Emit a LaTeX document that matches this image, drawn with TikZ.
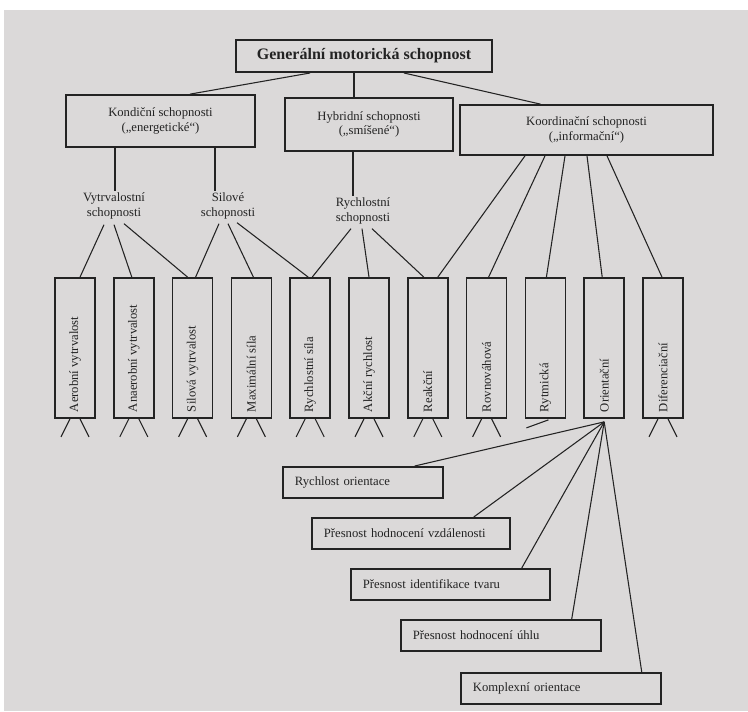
\documentclass[tikz,border=0pt]{standalone}
\usepackage{fontspec}
\setmainfont{Liberation Serif}
\usetikzlibrary{calc}
\definecolor{paper}{RGB}{219,217,217}
\definecolor{ink}{RGB}{35,35,35}
\begin{document}
\begin{tikzpicture}[x=0.75pt,y=-0.75pt,
  box/.style={draw=ink, line width=1.3pt, inner sep=0pt, text=ink, align=center,
    font=\fontsize{9.5}{11}\selectfont},
  vbox/.style={box, minimum width=30pt, minimum height=105pt},
  lbl/.style={inner sep=1pt, text=ink, align=center, font=\fontsize{9.5}{11}\selectfont},
  subbox/.style={box, anchor=north west, minimum height=23.25pt, align=left, inner xsep=9pt},
  conn/.style={draw=ink, line width=0.8pt}]
\useasboundingbox (0,0) rectangle (748,711);
\fill[white] (0,0) rectangle (748,711);
\fill[paper] (4,10) rectangle (748,711);

% top
\node[box, minimum width=192pt, minimum height=24pt, line width=1.5pt,
  font=\bfseries\fontsize{12}{14}\selectfont] (gen) at (364,56) {Generální motorická schopnost};
% second level
\node[box, minimum width=141.75pt, minimum height=39pt] (kond) at (160.5,121)
  {Kondiční schopnosti\\(„energetické“)};
\node[box, minimum width=126pt, minimum height=39.75pt] (hyb) at (369,124.5)
  {Hybridní schopnosti\\(„smíšené“)};
\node[box, minimum width=189.75pt, minimum height=37.5pt] (koord) at (586.5,130)
  {Koordinační schopnosti\\(„informační“)};

\draw[conn] ($(gen.south)+(-54,0)$) -- ($(kond.north)+(29.5,0)$);
\draw[conn] ($(gen.south)+(-10,0)$) -- ($(hyb.north)+(-15,0)$);
\draw[conn] ($(gen.south)+(40,0)$) -- ($(koord.north)+(-46,0)$);

% group labels
\node[lbl] (vyt) at (114,206) {Vytrvalostní\\schopnosti};
\node[lbl] (sil) at (228,206) {Silové\\schopnosti};
\node[lbl] (ryc) at (363,211) {Rychlostní\\schopnosti};

\draw[conn] ($(kond.south)+(-45.5,0)$) coordinate (k1) -- (k1 |- vyt.north);
\draw[conn] ($(kond.south)+(54.5,0)$) coordinate (k2) -- (k2 |- sil.north);
\draw[conn] ($(hyb.south)+(-16,0)$) coordinate (h1) -- (h1 |- ryc.north);

% vertical boxes
\foreach \i/\t in {1/Aerobní vytrvalost, 2/Anaerobní vytrvalost, 3/Silová vytrvalost,
  4/Maximální síla, 5/Rychlostní síla, 6/Akční rychlost, 7/Reakční, 8/Rovnováhová,
  9/Rytmická, 10/Orientační, 11/Diferenciační}{
  \node[vbox] (b\i) at ({75+58.8*(\i-1)},348) {\rotatebox{90}{\makebox[96pt][l]{\t}}};
}

% label -> boxes
\draw[conn] ($(vyt.south)+(-10,4)$) -- ($(b1.north)+(5,0)$);
\draw[conn] ($(vyt.south)+(0,4)$) -- ($(b2.north)+(-2,0)$);
\draw[conn] ($(vyt.south)+(10,3)$) -- ($(b3.north)+(-5,0)$);
\draw[conn] ($(sil.south)+(-9,3)$) -- ($(b3.north)+(3,0)$);
\draw[conn] ($(sil.south)+(0,3)$) -- ($(b4.north)+(2,0)$);
\draw[conn] ($(sil.south)+(9,2)$) -- ($(b5.north)+(-2,0)$);
\draw[conn] ($(ryc.south)+(-12,3)$) -- ($(b5.north)+(2,0)$);
\draw[conn] ($(ryc.south)+(-1,3)$) -- ($(b6.north)+(0,0)$);
\draw[conn] ($(ryc.south)+(9,3)$) -- ($(b7.north)+(-4,0)$);
% coordination -> boxes
\draw[conn] ($(koord.south)+(-61.5,0)$) -- ($(b7.north)+(10,0)$);
\draw[conn] ($(koord.south)+(-41.5,0)$) -- ($(b8.north)+(2,0)$);
\draw[conn] ($(koord.south)+(-21.5,0)$) -- ($(b9.north)+(1,0)$);
\draw[conn] ($(koord.south)+(0.5,0)$) -- ($(b10.north)+(-2,0)$);
\draw[conn] ($(koord.south)+(20.5,0)$) -- ($(b11.north)+(-1,0)$);

% stubs under boxes
\foreach \i in {1,2,3,4,5,6,7,8,11}{
  \draw[conn] ($(b\i.south)+(-5,0)$) -- ++(-9,18);
  \draw[conn] ($(b\i.south)+(5,0)$) -- ++(9,18);
}
\draw[conn] ($(b9.south)+(3,1)$) -- ++(-22,8);

% orientation sub-abilities
\node[subbox, minimum width=120pt, text width=102pt] (s1) at (282,466) {Rychlost orientace};
\node[subbox, minimum width=148.5pt, text width=130.5pt] (s2) at (311,517) {Přesnost hodnocení vzdálenosti};
\node[subbox, minimum width=149.25pt, text width=131.25pt] (s3) at (350,568) {Přesnost identifikace tvaru};
\node[subbox, minimum width=150pt, text width=132pt] (s4) at (400,619) {Přesnost hodnocení úhlu};
\node[subbox, minimum width=150pt, text width=132pt] (s5) at (460,672) {Komplexní orientace};

\coordinate (of) at ($(b10.south)+(0,3)$);
\draw[conn] (of) -- ($(s1.north east)+(-29,0)$);
\draw[conn] (of) -- ($(s2.north east)+(-37,0)$);
\draw[conn] (of) -- ($(s3.north east)+(-29,0)$);
\draw[conn] (of) -- ($(s4.north east)+(-30,0)$);
\draw[conn] (of) -- ($(s5.north east)+(-20,0)$);
\end{tikzpicture}
\end{document}
